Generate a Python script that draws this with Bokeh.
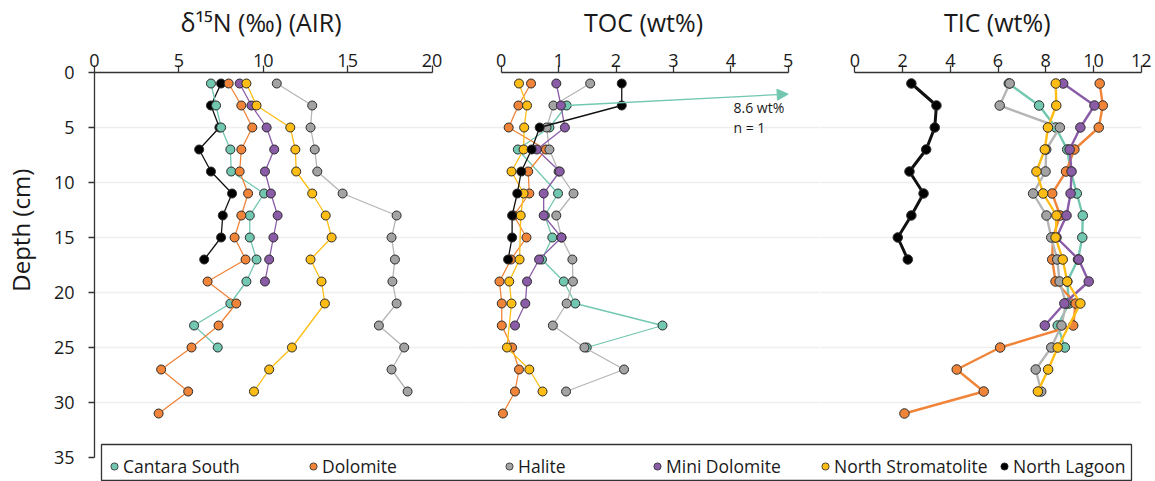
from bokeh.plotting import figure
from bokeh.models import Range1d, FixedTicker, Legend, LegendItem, Arrow, NormalHead, Label
from bokeh.layouts import row, column
from bokeh.embed import file_html
from bokeh.resources import INLINE

N = None
DEPTH = [1, 3, 5, 7, 9, 11, 13, 15, 17, 19, 21, 23, 25, 27, 29, 31]
SITES = ["Cantara South", "Dolomite", "Halite", "Mini Dolomite", "North Stromatolite", "North Lagoon"]

# d15N (permil vs AIR)
N15_CANTARA = [6.9, 7.2, 7.5, 8.05, 8.1, 10.05, 9.2, 9.2, 9.6, 9.0, 8.05, 5.9, 7.3, N, N, N]
N15_DOLOMITE = [7.95, 8.7, 9.35, 8.7, 8.6, 9.1, 8.7, 8.3, 8.95, 6.7, 8.4, 7.35, 5.75, 3.95, 5.55, 3.8]
N15_HALITE = [10.8, 12.9, 12.8, 13.05, 13.2, 14.7, 17.9, 17.6, 17.8, 17.65, 17.9, 16.85, 18.35, 17.6, 18.55, N]
N15_MINI = [8.6, 9.3, 10.2, 10.65, 10.1, 10.45, 10.85, 10.6, 10.35, 10.1, N, N, N, N, N, N]
N15_NSTROM = [9.0, 9.6, 11.6, 11.9, 11.95, 12.9, 13.7, 14.05, 12.8, 13.45, 13.65, N, 11.7, 10.35, 9.45, N]
N15_NLAGOON = [7.5, 6.9, 7.4, 6.2, 6.9, 8.15, 7.6, 7.5, 6.5, N, N, N, N, N, N, N]

# TOC (wt%)
TOC_CANTARA = [N, 1.14, 0.84, 0.29, N, 0.99, 0.76, 0.89, 0.71, 1.09, 1.29, 2.81, 1.49, N, N, N]
TOC_CANTARA_TOP = 8.6      # off-scale value at 1 cm (n = 1)
TOC_CANTARA_TOP_DEPTH = 1
TOC_DOLOMITE = [0.52, 0.30, 0.13, 0.78, 0.47, 0.49, 0.22, 0.44, 0.17, -0.03, 0.01, 0.01, 0.19, 0.31, 0.24, 0.03]
TOC_HALITE = [1.55, 0.91, 0.79, 0.84, 1.0, 1.26, 0.96, 1.05, 1.24, 1.25, 1.14, 0.90, 1.45, 2.14, 1.13, N]
TOC_MINI = [0.96, 1.04, 1.11, 0.62, 1.02, 0.74, 0.74, 1.05, 0.66, 0.45, 0.42, 0.24, N, N, N, N]
TOC_NSTROM = [0.31, 0.45, 0.40, 0.39, 0.18, 0.39, 0.34, N, 0.32, 0.14, 0.18, N, 0.10, 0.49, 0.72, N]
TOC_NLAGOON = [2.10, 2.10, 0.67, 0.53, 0.35, 0.28, 0.19, 0.19, 0.12, N, N, N, N, N, N, N]

# TIC (wt%)
TIC_CANTARA = [6.45, 7.72, 8.42, 8.9, 9.05, 9.3, 9.55, 9.53, 9.35, 8.9, 8.97, 8.5, 8.8, N, N, N]
TIC_DOLOMITE = [10.26, 10.39, 10.22, 9.2, 8.85, 8.27, 8.6, 8.3, 8.27, 8.41, 9.25, 9.15, 6.09, 4.27, 5.40, 2.08]
TIC_HALITE = [6.49, 6.07, 8.59, 8.02, 7.99, 7.47, 8.03, 8.23, 8.48, 8.58, 8.85, 8.66, 8.23, 7.58, 7.81, N]
TIC_MINI = [8.73, 10.04, 9.45, 9.0, 9.08, 9.04, 8.87, 8.45, 9.38, 9.8, 8.78, 7.96, N, N, N, N]
TIC_NSTROM = [8.42, 8.44, 8.09, 7.96, 7.61, 7.89, 8.45, 8.41, 8.71, 8.9, 9.45, N, 8.5, 8.1, 7.67, N]
TIC_NLAGOON = [2.37, 3.42, 3.35, 2.99, 2.29, 2.88, 2.37, 1.80, 2.22, N, N, N, N, N, N, N]

N15_TICKS = [0, 5, 10, 15, 20]
TOC_TICKS = [0, 1, 2, 3, 4, 5]
TIC_TICKS = [0, 2, 4, 6, 8, 10, 12]
DEPTH_TICKS = [0, 5, 10, 15, 20, 25, 30, 35]
GRID_TICKS = [5, 10, 15, 20, 25, 30]

FILL = {"Cantara South": "#72c7b1", "Dolomite": "#f0853a", "Halite": "#a3a3a3",
        "Mini Dolomite": "#8a5ca8", "North Stromatolite": "#fdbd14", "North Lagoon": "#000000"}
LINE = {"Cantara South": "#72c7b1", "Dolomite": "#f0853a", "Halite": "#b5b5b5",
        "Mini Dolomite": "#8a5ca8", "North Stromatolite": "#fdbd14", "North Lagoon": "#111111"}

FONT = "Open Sans"
TXT = "#1a1a1a"
H = 481
TOP = 72            # frame top inside canvas
PX_PER_CM = 11.0
Y_BOTTOM = (H - TOP) / PX_PER_CM
NB = "\u00a0"       # non-breaking space, used to nudge centred axis titles


def style_axis(ax, ticks, bounds, tick_out):
    ax.ticker = FixedTicker(ticks=ticks)
    ax.bounds = bounds
    ax.axis_line_color = "#333333"
    ax.axis_line_width = 1.3
    ax.major_tick_line_color = "#333333"
    ax.major_tick_line_width = 1.3
    ax.major_tick_out = tick_out
    ax.major_tick_in = 0
    ax.minor_tick_line_color = None
    ax.major_label_text_font = FONT
    ax.major_label_text_font_size = "18px"
    ax.major_label_text_color = TXT


def make_panel(width, min_left, min_right, frame_left, frame_right, zero_px, ppu, ticks, title, show_y):
    x0 = (frame_left - zero_px) / ppu
    x1 = (frame_right - zero_px) / ppu
    p = figure(width=width, height=H, x_range=Range1d(x0, x1), y_range=Range1d(Y_BOTTOM, 0),
               x_axis_location="above", y_axis_location="left" if show_y else None,
               toolbar_location=None, output_backend="svg",
               min_border_left=min_left, min_border_right=min_right,
               min_border_top=TOP, min_border_bottom=0)
    p.outline_line_color = None
    p.background_fill_color = "white"
    p.border_fill_color = "white"
    p.xgrid.visible = False
    p.ygrid.ticker = FixedTicker(ticks=GRID_TICKS)
    p.ygrid.grid_line_color = "#eeeeee"
    p.ygrid.grid_line_width = 1.5
    ax = p.xaxis[0]
    style_axis(ax, ticks, (ticks[0], ticks[-1]), 7)
    ax.major_label_standoff = -1
    ax.axis_label = title
    ax.axis_label_text_font = FONT
    ax.axis_label_text_font_size = "25px"
    ax.axis_label_text_font_style = "normal"
    ax.axis_label_text_color = TXT
    ax.axis_label_standoff = 12
    if show_y:
        ay = p.yaxis[0]
        style_axis(ay, DEPTH_TICKS, (0, 35), 6)
        ay.major_label_standoff = 14
        ay.axis_label = NB * 15 + "Depth (cm)"
        ay.axis_label_text_font = FONT
        ay.axis_label_text_font_size = "24px"
        ay.axis_label_text_font_style = "normal"
        ay.axis_label_text_color = TXT
        ay.axis_label_standoff = 14
    return p


def draw(p, name, vals, lw, size):
    xs = [v for v in vals if v is not None]
    ys = [d for d, v in zip(DEPTH, vals) if v is not None]
    p.line(xs, ys, line_color=LINE[name], line_width=lw)
    p.scatter(xs, ys, marker="circle", size=size, fill_color=FILL[name],
              line_color="#2a2a2a", line_width=1)


# ---- panel 1: d15N ----
p1 = make_panel(466, 88, 0, 88, 466, 88, 17.15, N15_TICKS, "δ¹⁵N (‰) (AIR)" + NB * 6, True)
n15 = dict(zip(SITES, [N15_CANTARA, N15_DOLOMITE, N15_HALITE, N15_MINI, N15_NSTROM, N15_NLAGOON]))
for name in ["North Lagoon", "Cantara South", "Dolomite", "Halite", "Mini Dolomite", "North Stromatolite"]:
    draw(p1, name, n15[name], 1.3, 9)

# ---- panel 2: TOC ----
p2 = make_panel(354, 0, 0, 466, 820, 500.7, 57.4, TOC_TICKS, "TOC (wt%)", False)
toc = dict(zip(SITES, [TOC_CANTARA, TOC_DOLOMITE, TOC_HALITE, TOC_MINI, TOC_NSTROM, TOC_NLAGOON]))
for name in SITES:
    draw(p2, name, toc[name], 1.3, 9)
# off-scale Cantara South value: arrow toward it, clipped at the axis end
cs_d = [d for d, v in zip(DEPTH, TOC_CANTARA) if v is not None][0]
cs_v = [v for v in TOC_CANTARA if v is not None][0]
x_end = TOC_TICKS[-1]
y_end = cs_d + (TOC_CANTARA_TOP_DEPTH - cs_d) * (x_end - cs_v) / (TOC_CANTARA_TOP - cs_v)
p2.add_layout(Arrow(end=NormalHead(size=11, fill_color=FILL["Cantara South"],
                                   line_color=FILL["Cantara South"]),
                    x_start=cs_v, y_start=cs_d, x_end=x_end, y_end=y_end,
                    line_color=FILL["Cantara South"], line_width=1.3), "center")
p2.add_layout(Label(x=(733 - 500.7) / 57.4, y=(107 - TOP) / PX_PER_CM, text=f"{TOC_CANTARA_TOP} wt%",
                    text_baseline="middle", text_font=FONT, text_font_size="14px", text_color=TXT))
p2.add_layout(Label(x=(733 - 500.7) / 57.4, y=(127 - TOP) / PX_PER_CM, text="n = 1",
                    text_baseline="middle", text_font=FONT, text_font_size="14px", text_color=TXT))

# ---- panel 3: TIC ----
p3 = make_panel(335, 0, 14, 820, 1141, 854.3, 23.87, TIC_TICKS, NB * 5 + "TIC (wt%)", False)
tic = dict(zip(SITES, [TIC_CANTARA, TIC_DOLOMITE, TIC_HALITE, TIC_MINI, TIC_NSTROM, TIC_NLAGOON]))
for name in SITES:
    draw(p3, name, tic[name], 3.0 if name == "North Lagoon" else 2.4, 9.5)

# ---- legend strip (overlaid on the bottom of the panels) ----
LEG_LEFT = 101
LEG_W = 1030
LEG_H = 39
leg = figure(width=LEG_W + 4, height=LEG_H, x_range=Range1d(0, 1), y_range=Range1d(0, 1),
             x_axis_location=None, y_axis_location=None, toolbar_location=None,
             output_backend="svg", min_border_left=2, min_border_right=2,
             min_border_top=2, min_border_bottom=0)
leg.grid.visible = False
leg.outline_line_color = "#333333"
leg.outline_line_width = 1.3
leg.background_fill_color = "white"
leg.border_fill_color = "white"
leg.margin = (-LEG_H, 0, 0, LEG_LEFT - 2)
MARK_X = [114, 313, 509, 657, 825, 1004]
for name, mx in zip(SITES, MARK_X):
    # swatch-only renderer: its single point lies outside the strip's visible range
    r = leg.scatter(x=[-1], y=[-1], marker="circle", size=7, fill_color=FILL[name],
                    line_color="#2a2a2a", line_width=0.8)
    lg = Legend(items=[LegendItem(label=name, renderers=[r])], location=(mx - 9 - LEG_LEFT, 3),
                orientation="horizontal", padding=0, margin=0, spacing=0,
                border_line_color=None, background_fill_alpha=0,
                glyph_width=18, glyph_height=18, label_standoff=0,
                label_text_font=FONT, label_text_font_size="17.5px", label_text_color=TXT,
                label_height=20)
    leg.add_layout(lg)

layout = column(row(p1, p2, p3), leg)
open("out.html", "w").write(file_html(layout, INLINE))
